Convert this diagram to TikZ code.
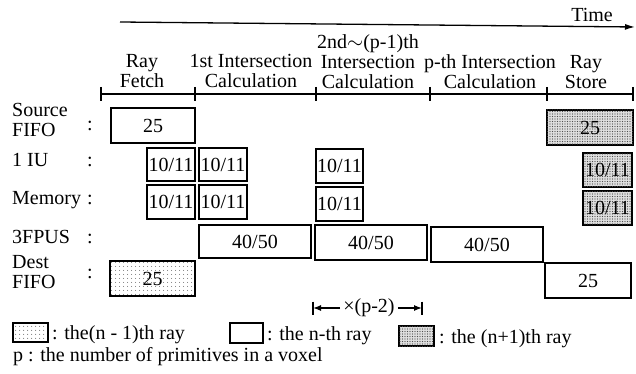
\documentclass[tikz,border=0pt]{standalone}
\usepackage{fontspec}
\setmainfont{Liberation Serif}
\usetikzlibrary{arrows.meta,patterns.meta}
\begin{document}
\begin{tikzpicture}[x=1pt,y=-1pt,
  every node/.style={font=\fontsize{20}{20}\selectfont, inner sep=0pt},
  box/.style={draw, line width=1.7pt, inner sep=0pt},
  prev/.style={box, pattern={Dots[distance=4pt, radius=0.55pt]}, pattern color=black!80},
  next/.style={box, fill=gray!25, postaction={pattern={Dots[distance=2.5pt, radius=0.6pt]}, pattern color=black!70}},
  rowlbl/.style={anchor=base west, align=left},
  colon/.style={anchor=base},
  head/.style={anchor=south, align=center},
  axis/.style={line width=1.6pt},
  tick/.style={line width=1.2pt},
  dimarrow/.style={line width=1.3pt, -{Latex[length=8pt,width=6pt]}},
]
\useasboundingbox (0,0) rectangle (636,374);

% time arrow
\coordinate (ts) at (120,22);
\coordinate (te) at (635,27);
\draw[line width=1.3pt, -{Latex[length=10pt,width=6pt]}] (ts) -- (te);
\node (time) at (592,15) {Time};

% headers
\node[head] (h1) at (142,88) {Ray\\Fetch};
\node[head] (h2) at (251,88) {1st Intersection\\Calculation};
\node[head] (h3) at (368,89) {2nd$\sim$(p-1)th\\Intersection\\Calculation};
\node[head] (h4) at (490,89) {p-th Intersection\\Calculation};
\node[head] (h5) at (586,89) {Ray\\Store};

% time axis
\coordinate (t0) at (101,94);
\coordinate (t1) at (195,94);
\coordinate (t2) at (316,94);
\coordinate (t3) at (430,94);
\coordinate (t4) at (547,94);
\coordinate (t5) at (633,94);
\draw[axis] (t0) -- (t5);
\foreach \t in {t0,t1,t2,t3,t4,t5}
  \draw[tick] (\t) ++(0,-7) -- ++(0,14);

% row labels
\node[rowlbl] (lsrc) at (12,137) {Source\\FIFO};
\node[rowlbl] (liu) at (12,167) {1 IU};
\node[rowlbl] (lmem) at (12,204) {Memory};
\node[rowlbl] (lfpu) at (12,243) {3FPUS};
\node[rowlbl] (ldst) at (12,288) {Dest\\FIFO};
\node[colon] (csrc) at (90,131) {:};
\node[colon] (ciu) at (90,167) {:};
\node[colon] (cmem) at (90,204) {:};
\node[colon] (cfpu) at (90,243) {:};
\node[colon] (cdst) at (90,278) {:};

% Source FIFO
\node[box, minimum width=84, minimum height=35] (s1) at (153,125.5) {25};
\node[next, minimum width=86, minimum height=35] (s2) at (590,127.5) {25};

% 1 IU
\node[box, minimum width=48, minimum height=33] (i1) at (171,164.5) {10/11};
\node[box, minimum width=48, minimum height=33] (i2) at (223,164.5) {10/11};
\node[box, minimum width=47, minimum height=34] (i3) at (339.5,166) {10/11};
\node[next, minimum width=49, minimum height=34] (i4) at (607.5,170) {10/11};

% Memory
\node[box, minimum width=48, minimum height=34] (m1) at (171,202) {10/11};
\node[box, minimum width=48, minimum height=34] (m2) at (223,202) {10/11};
\node[box, minimum width=47, minimum height=34] (m3) at (339.5,204) {10/11};
\node[next, minimum width=49, minimum height=34] (m4) at (607.5,208) {10/11};

% 3FPUS
\node[box, minimum width=112, minimum height=33] (f1) at (255,241.5) {40/50};
\node[box, minimum width=112, minimum height=35] (f2) at (371,242.5) {40/50};
\node[box, minimum width=112, minimum height=35] (f3) at (487,244.5) {40/50};

% Dest FIFO
\node[prev, minimum width=85, minimum height=35] (d1) at (152.5,278.5) {25};
\node[box, minimum width=86, minimum height=35] (d2) at (588,280.5) {25};

% dimension
\node (dim) at (369,308) {×(p-2)};
\coordinate (dl) at (313,308);
\coordinate (dr) at (422,308);
\draw[tick] (dl) ++(0,-6.5) -- ++(0,13);
\draw[tick] (dr) ++(0,-6.5) -- ++(0,13);
\draw[dimarrow] ([xshift=-3pt]dim.west) -- (dl);
\draw[dimarrow] ([xshift=3pt]dim.east) -- (dr);

% legend
\node[prev, minimum width=35, minimum height=19] (k1) at (30.5,332.5) {};
\node[anchor=base west] (k1t) at (52,339) {: the(n - 1)th ray};
\node[box, minimum width=33, minimum height=20] (k2) at (246.5,333) {};
\node[anchor=base west] (k2t) at (267,340) {: the n-th ray};
\node[next, minimum width=35, minimum height=20] (k3) at (416.5,336) {};
\node[anchor=base west] (k3t) at (439,343) {: the (n+1)th ray};
\node[anchor=base west] (note) at (13,361) {p : the number of primitives in a voxel};
\end{tikzpicture}
\end{document}
